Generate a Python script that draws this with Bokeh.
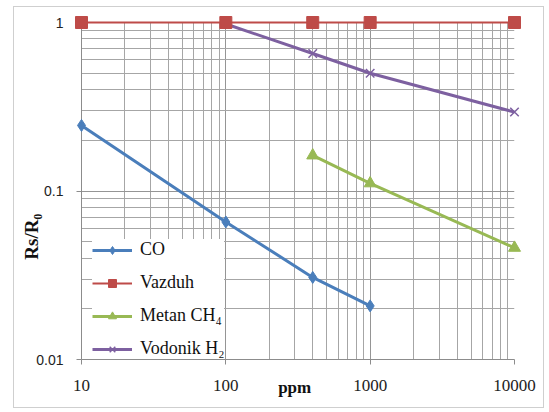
import math
from bokeh.plotting import figure
from bokeh.models import FixedTicker, NumeralTickFormatter, Legend, LegendItem
from bokeh.core.properties import value
from bokeh.embed import file_html
from bokeh.resources import INLINE

# ---- data ----
co_x = [10, 100, 400, 1000]
co_y = [0.245, 0.0655, 0.0307, 0.0208]
air_x = [10, 100, 400, 1000, 10000]
air_y = [1, 1, 1, 1, 1]
ch4_x = [400, 1000, 10000]
ch4_y = [0.1625, 0.111, 0.046]
h2_x = [100, 400, 1000, 10000]
h2_y = [0.98, 0.655, 0.5, 0.294]
x_ticks = [10, 100, 1000, 10000]
y_ticks = [0.01, 0.1, 1]
names = ["CO", "Vazduh", "Metan CH\u2084", "Vodonik H\u2082"]
x_title = "ppm"
y_title = "Rs/R\u2080"

SERIF = "Liberation Serif"

p = figure(width=531, height=402, x_axis_type="log", y_axis_type="log",
           x_range=(10, 10000), y_range=(0.01, 1),
           output_backend="svg", toolbar_location=None,
           min_border_left=67, min_border_right=31,
           min_border_top=15, min_border_bottom=50,
           styles={"border": "1px solid #cfcfcf", "margin": "6px 0px 0px 13px"})
p.outline_line_color = None
p.background_fill_color = "white"
p.border_fill_color = "white"

minor_x = [m * 10 ** e for e in range(1, 4) for m in range(2, 10)]
minor_y = [m * 10 ** e for e in range(-2, 0) for m in range(2, 10)]
p.xaxis.ticker = FixedTicker(ticks=x_ticks, minor_ticks=minor_x)
p.yaxis.ticker = FixedTicker(ticks=y_ticks, minor_ticks=minor_y)
p.xaxis.formatter = NumeralTickFormatter(format="0")
p.yaxis.formatter = NumeralTickFormatter(format="0.[00]")

for ax in (p.xaxis, p.yaxis):
    ax.axis_line_color = "#8c8c8c"
    ax.major_tick_line_color = "#8c8c8c"
    ax.major_tick_in = 0
    ax.major_tick_out = 5
    ax.minor_tick_in = 0
    ax.minor_tick_out = 0
    ax.major_label_text_color = "#222222"
p.xaxis.major_label_text_font = SERIF
p.xaxis.major_label_text_font_size = "17px"
p.xaxis.major_label_standoff = 15
p.yaxis.major_label_text_font = "Liberation Sans"
p.yaxis.major_label_text_font_size = "14px"
p.yaxis.major_label_standoff = 13

for g in (p.xgrid, p.ygrid):
    g.grid_line_color = "#959595"
    g.grid_line_width = 1
    g.minor_grid_line_color = "#a6a6a6"
    g.minor_grid_line_width = 1

c_co, c_air, c_ch4, c_h2 = "#4a7ebb", "#be4b48", "#98b954", "#7d60a0"

r1l = p.line(co_x, co_y, line_color=c_co, line_width=3)
r1m = p.scatter(co_x, co_y, marker="diamond", size=12, color=c_co, level="overlay")
r3l = p.line(ch4_x, ch4_y, line_color=c_ch4, line_width=3)
r3m = p.scatter(ch4_x, ch4_y, marker="triangle", size=12, color=c_ch4, level="overlay")
r4l = p.line(h2_x, h2_y, line_color=c_h2, line_width=3)
r4m = p.scatter(h2_x, h2_y, marker="x", size=12, line_color=c_h2, line_width=1.5, level="overlay")
r2l = p.line(air_x, air_y, line_color=c_air, line_width=2, level="overlay")
r2m = p.scatter(air_x, air_y, marker="square", size=12, color=c_air, level="overlay")

legend = Legend(items=[
    LegendItem(label=names[0], renderers=[r1l, r1m]),
    LegendItem(label=names[1], renderers=[r2l, r2m]),
    LegendItem(label=names[2], renderers=[r3l, r3m]),
    LegendItem(label=names[3], renderers=[r4l, r4m]),
], location=(11, 0), margin=0, padding=4, spacing=12,
    glyph_width=40, glyph_height=20, label_height=20,
    label_standoff=8, label_text_font=SERIF, label_text_font_size="18px",
    label_text_color="#111111", border_line_color=None,
    background_fill_color="white", background_fill_alpha=1.0)
p.add_layout(legend, "center")

# axis titles as overlay text (not clipped to the frame)
p.text(x=[300], y=[y_ticks[0]], text=[x_title], y_offset=28,
       text_font=value(SERIF), text_font_style="bold", text_font_size="17px",
       text_align="center", text_baseline="middle", text_color="#111111",
       level="overlay")
p.text(x=[x_ticks[0]], y=[0.0535], text=[y_title], x_offset=-50,
       angle=math.pi / 2, text_font=value(SERIF), text_font_style="bold",
       text_font_size="19px", text_align="center", text_baseline="middle",
       text_color="#111111", level="overlay")

open("out.html", "w").write(file_html(p, INLINE))
